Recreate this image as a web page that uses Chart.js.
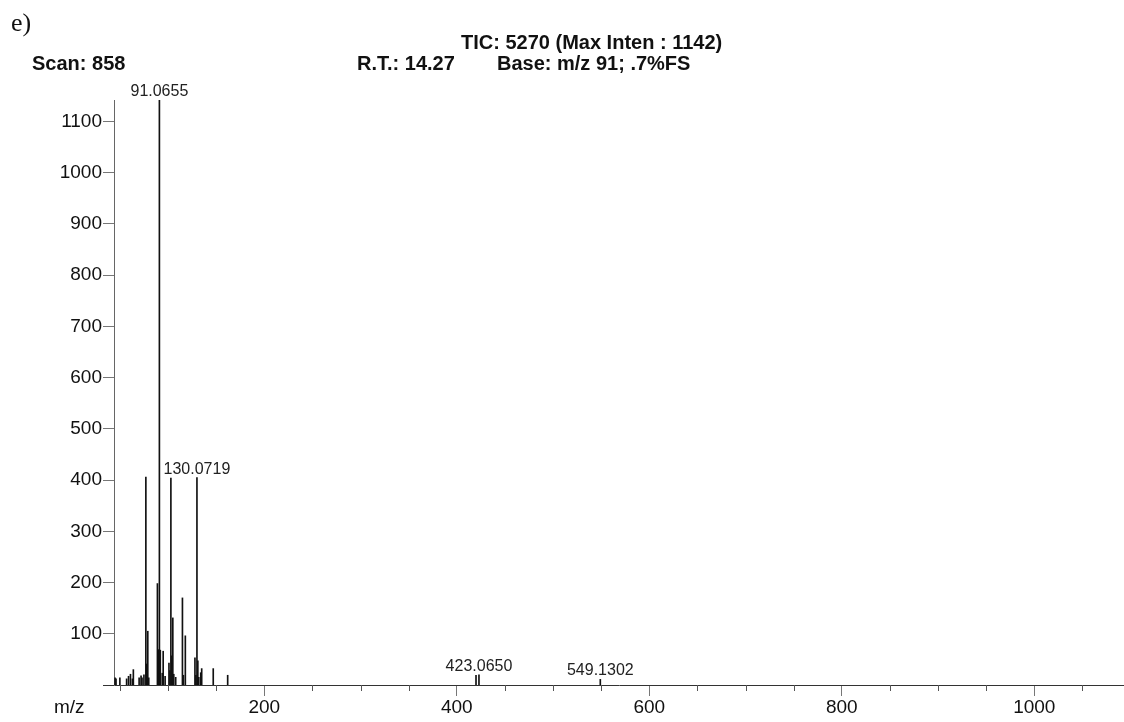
<!DOCTYPE html>
<html>
<head>
<meta charset="utf-8">
<script src="https://cdn.jsdelivr.net/npm/chart.js@4.4.1/dist/chart.umd.min.js"></script>
<style>
  html, body { margin: 0; padding: 0; background: #fff; }
  #wrap { position: relative; width: 1124px; height: 722px; overflow: hidden; }
  #c { position: absolute; left: 0; top: 0; }
  .t { position: absolute; white-space: nowrap; line-height: 1; color: #111; font-family: "Liberation Sans", Arial, sans-serif; }
  .b { font-weight: bold; font-size: 20px; }
</style>
</head>
<body>
<div id="wrap">
  <canvas id="c" width="1124" height="722"></canvas>
  <div class="t" style="left:11px; top:10px; font-family:'Liberation Serif', serif; font-size:26px;">e)</div>
  <div class="t b" style="left:461px; top:32.4px;">TIC: 5270 (Max Inten : 1142)</div>
  <div class="t b" style="left:32px; top:53px;">Scan: 858</div>
  <div class="t b" style="left:357px; top:53px;">R.T.: 14.27</div>
  <div class="t b" style="left:497px; top:53px;">Base: m/z 91; .7%FS</div>
  <div class="t" style="left:54px; top:697px; font-size:19px;">m/z</div>
</div>
<script>
// ---- data ----
const mzValues = [45, 46, 50, 57, 59, 61, 63, 64, 70, 72, 73, 75, 77, 78, 79, 80,
  89, 90, 91.0655, 92, 94, 95, 97, 101, 102, 103, 104, 105, 106, 108,
  115, 116, 118, 128, 129, 130.0719, 131, 132, 134, 135, 147, 162,
  420, 423.0650, 549.1302];
const intensities = [14, 12, 14, 12, 17, 21, 12, 30, 14, 18, 14, 20, 406, 41, 105, 14,
  198, 69, 1142, 68, 23, 66, 17, 43, 28, 404, 57, 131, 21, 15,
  170, 19, 96, 53, 19, 405, 47, 15, 24, 32, 32, 19,
  19, 20, 11];
const labelledPeaks = [91.0655, 130.0719, 423.0650, 549.1302];
const yTickValues = [100, 200, 300, 400, 500, 600, 700, 800, 900, 1000, 1100];
const xTickValues = [50, 100, 150, 200, 250, 300, 350, 400, 450, 500, 550, 600, 650, 700, 750, 800, 850, 900, 950, 1000, 1050];
const xLabelledTicks = [200, 400, 600, 800, 1000];
const maxIntensity = 1142;

const FONT = '"Liberation Sans", Arial, sans-serif';

const points = mzValues.map((m, i) => ({ x: m, y: intensities[i] }));

const extrasPlugin = {
  id: 'extras',
  afterDraw(chart) {
    const ctx = chart.ctx;
    const xs = chart.scales.x, ys = chart.scales.y;
    const area = chart.chartArea;
    ctx.save();
    // x axis line extends a little left of the y axis
    ctx.strokeStyle = '#333';
    ctx.lineWidth = 1;
    ctx.beginPath();
    ctx.moveTo(103, Math.round(area.bottom) + 0.5);
    ctx.lineTo(area.left, Math.round(area.bottom) + 0.5);
    ctx.stroke();
    // minor ticks (short)
    ctx.strokeStyle = '#555';
    xTickValues.forEach(v => {
      if (xLabelledTicks.includes(v)) return;
      const px = Math.round(xs.getPixelForValue(v)) + 0.5;
      ctx.beginPath();
      ctx.moveTo(px, area.bottom);
      ctx.lineTo(px, area.bottom + 6);
      ctx.stroke();
    });
    // peak labels
    ctx.fillStyle = '#222';
    ctx.font = '16px ' + FONT;
    ctx.textAlign = 'center';
    ctx.textBaseline = 'alphabetic';
    labelledPeaks.forEach(m => {
      const idx = mzValues.indexOf(m);
      const px = xs.getPixelForValue(m);
      const py = ys.getPixelForValue(intensities[idx]);
      ctx.fillText(m.toFixed(4), px, py - 4);
    });
    ctx.restore();
  }
};

new Chart(document.getElementById('c'), {
  type: 'bar',
  data: {
    datasets: [{
      data: points,
      backgroundColor: '#111',
      borderWidth: 0,
      barThickness: 1,
      grouped: false
    }]
  },
  options: {
    responsive: false,
    animation: false,
    layout: { padding: { top: 100, left: 0, right: 0, bottom: 0 } },
    plugins: { legend: { display: false }, tooltip: { enabled: false }, title: { display: false } },
    scales: {
      x: {
        type: 'linear',
        offset: false,
        min: 43.9,
        max: 1093.2,
        afterBuildTicks: axis => { axis.ticks = xTickValues.map(v => ({ value: v })); },
        afterFit: axis => { axis.height = 37; },
        ticks: {
          autoSkip: false,
          maxRotation: 0,
          padding: 0,
          color: '#111',
          font: { family: FONT, size: 19 },
          callback: v => xLabelledTicks.includes(v) ? String(v) : ''
        },
        grid: {
          display: true,
          offset: false,
          drawOnChartArea: false,
          drawTicks: true,
          tickLength: 11,
          tickColor: c => (c.tick && xLabelledTicks.includes(c.tick.value)) ? '#777' : 'rgba(0,0,0,0)'
        },
        border: { display: true, color: '#333', width: 1 }
      },
      y: {
        type: 'linear',
        min: 0,
        max: maxIntensity,
        afterBuildTicks: axis => { axis.ticks = yTickValues.map(v => ({ value: v })); },
        afterFit: axis => { axis.width = 114; },
        ticks: {
          padding: 1,
          color: '#111',
          font: { family: FONT, size: 19 },
          callback: v => String(v)
        },
        grid: {
          display: true,
          drawOnChartArea: false,
          drawTicks: true,
          tickLength: 11,
          tickColor: '#777'
        },
        border: { display: true, color: '#666', width: 1 }
      }
    }
  },
  plugins: [extrasPlugin]
});
</script>
</body>
</html>
